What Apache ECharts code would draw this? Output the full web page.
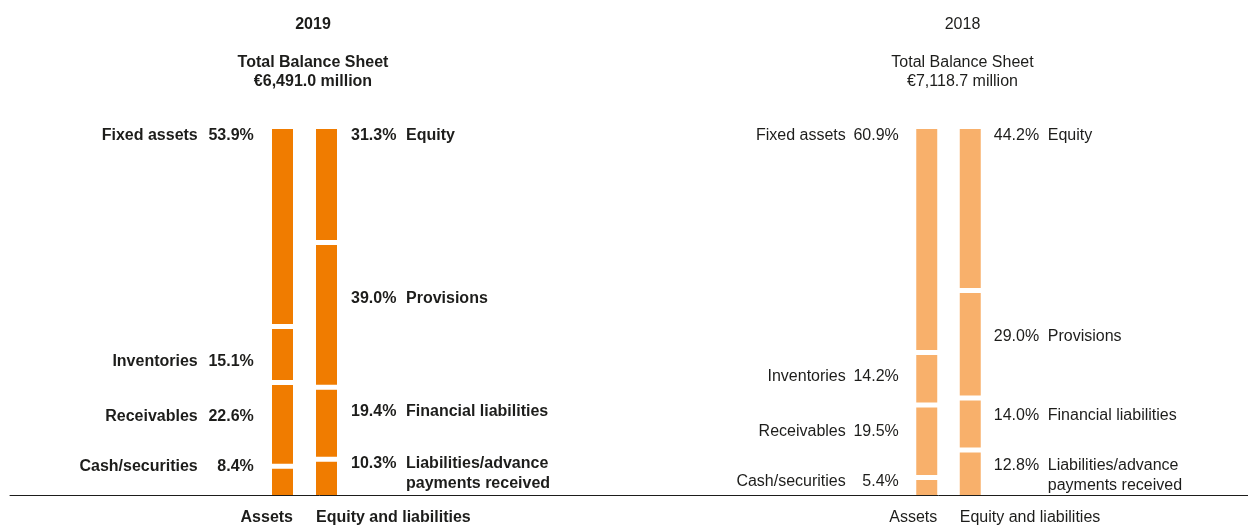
<!DOCTYPE html>
<html>
<head>
<meta charset="utf-8">
<title>Balance sheet structure</title>
<script src="https://cdn.jsdelivr.net/npm/echarts@6/dist/echarts.min.js"></script>
<style>
  html, body { margin: 0; padding: 0; background: #fff; }
  #chart { width: 1248px; height: 525px; }
</style>
</head>
<body>
<div id="chart"></div>
<script>
// data (top segment first)
const years = ['2019', '2018'];
const totals = ['€6,491.0 million', '€7,118.7 million'];
const sides = ['Assets', 'Equity and liabilities'];
const assetItems = ['Fixed assets', 'Inventories', 'Receivables', 'Cash/securities'];
const liabItems = ['Equity', 'Provisions', 'Financial liabilities', 'Liabilities/advance\npayments received'];
const assets2019 = [53.9, 15.1, 22.6, 8.4];
const liabs2019 = [31.3, 39.0, 19.4, 10.3];
const assets2018 = [60.9, 14.2, 19.5, 5.4];
const liabs2018 = [44.2, 29.0, 14.0, 12.8];

// look
const FONT = 'Liberation Sans';
const INK = '#1d1d1b';
const barColors = ['#f07c00', '#f8b06b'];
const weights = ['bold', 'normal'];
const titleX = [313, 962.5];
const grids = [
  { left: 260.5, width: 88, top: 126.5, bottom: 27.5, outerBoundsMode: 'none' },
  { left: 905, width: 87, top: 126.5, bottom: 27.5, outerBoundsMode: 'none' }
];
const pctBoxLeft = [56, 53];
const pctBoxRight = [55, 54];
const leftDist = [15.75, 15];
const rightDist = [11.5, 10.5];
// hand tuned vertical shift of each label (the original places them by eye)
const labelNudge = [
  [[-91, 7, -8, -15], [-49, -16.5, -12, -4.5]],
  [[-104, -2.3, -9.8, -6], [-73, -8, -8.2, 1.5]]
];

const chart = echarts.init(document.getElementById('chart'));

const fmt = v => v.toFixed(1) + '%';

function leftLabel(name, v) {
  return '{n|' + name + '}{p|' + fmt(v) + '}';
}
function rightLabel(name, v) {
  const lines = name.split('\n');
  let s = '{p|' + fmt(v) + '}{n|' + lines[0] + '}';
  for (let k = 1; k < lines.length; k++) s += '\n{p| }{n|' + lines[k] + '}';
  return s;
}

const series = [];
const yearData = [[assets2019, liabs2019], [assets2018, liabs2018]];
yearData.forEach((pair, g) => {
  const w = weights[g];
  const baseText = { fontFamily: FONT, fontSize: 16, fontWeight: w, color: INK, lineHeight: 20 };
  // assets: bottom segment first for stacking
  for (let i = assetItems.length - 1; i >= 0; i--) {
    const v = pair[0][i];
    series.push({
      type: 'bar',
      name: assetItems[i] + ' ' + years[g],
      xAxisIndex: g, yAxisIndex: g, stack: 'y' + g,
      barWidth: 26,
      itemStyle: { color: barColors[g], borderColor: '#fff', borderWidth: 2.5 },
      label: {
        show: true, position: 'left', distance: leftDist[g],
        formatter: leftLabel(assetItems[i], v),
        rich: {
          n: Object.assign({}, baseText),
          p: Object.assign({}, baseText, { width: pctBoxLeft[g], align: 'right' })
        }
      },
      data: [{ value: v, label: { offset: [0, labelNudge[g][0][i]] } }, '-']
    });
  }
  for (let i = liabItems.length - 1; i >= 0; i--) {
    const v = pair[1][i];
    series.push({
      type: 'bar',
      name: liabItems[i] + ' ' + years[g],
      xAxisIndex: g, yAxisIndex: g, stack: 'y' + g,
      barWidth: 26,
      itemStyle: { color: barColors[g], borderColor: '#fff', borderWidth: 2.5 },
      label: {
        show: true, position: 'right', distance: rightDist[g],
        formatter: rightLabel(liabItems[i], v),
        rich: {
          n: Object.assign({}, baseText),
          p: Object.assign({}, baseText, { width: pctBoxRight[g], align: 'left' })
        }
      },
      data: ['-', { value: v, label: { offset: [0, labelNudge[g][1][i]] } }]
    });
  }
});

const option = {
  animation: false,
  title: years.map((y, g) => ({
    text: y,
    subtext: 'Total Balance Sheet\n' + totals[g],
    left: titleX[g], top: 15, textAlign: 'center',
    padding: 0, itemGap: 19.5,
    textStyle: { fontFamily: FONT, fontSize: 16, fontWeight: weights[g], color: INK, lineHeight: 19 },
    subtextStyle: { fontFamily: FONT, fontSize: 16, fontWeight: weights[g], color: INK, lineHeight: 19 }
  })),
  grid: grids.concat([{ left: 10, right: 0, top: 100, bottom: 30, outerBoundsMode: 'none' }]),
  xAxis: years.map((y, g) => ({
    type: 'category', gridIndex: g, data: sides,
    axisLine: { show: false }, axisTick: { show: false },
    axisLabel: {
      margin: 12, interval: 0,
      formatter: (val, idx) => (idx === 0 ? '{r|' : '{l|') + val + '}',
      rich: {
        r: { fontFamily: FONT, fontSize: 16, fontWeight: weights[g], color: INK, width: 21, align: 'right' },
        l: { fontFamily: FONT, fontSize: 16, fontWeight: weights[g], color: INK, width: 21, align: 'left' }
      }
    }
  })).concat([{
    type: 'value', gridIndex: 2, min: 0, max: 1, z: 10,
    axisLine: { show: true, onZero: false, lineStyle: { color: INK, width: 1 } },
    axisTick: { show: false }, axisLabel: { show: false }, splitLine: { show: false }
  }]),
  yAxis: [0, 1].map(g => ({ type: 'value', gridIndex: g, min: 0, max: 100, show: false }))
    .concat([{ type: 'value', gridIndex: 2, min: 0, max: 1, show: false }]),
  series: series
};

chart.setOption(option);
</script>
</body>
</html>
